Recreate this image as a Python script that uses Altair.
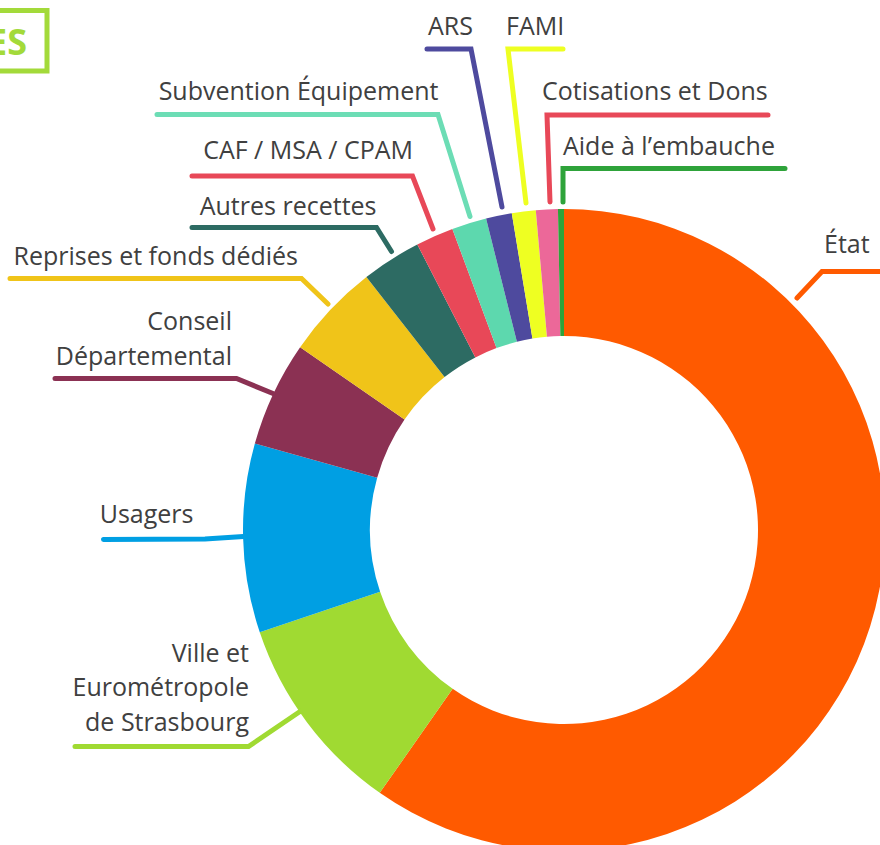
import altair as alt
import pandas as pd

# ---- data (percent of total resources) ----
categories = ["État", "Ville et Eurométropole de Strasbourg", "Usagers", "Conseil Départemental",
              "Reprises et fonds dédiés", "Autres recettes", "CAF / MSA / CPAM",
              "Subvention Équipement", "ARS", "FAMI", "Cotisations et Dons", "Aide à l’embauche"]
values = [59.7, 10.1, 9.5, 5.3, 4.8, 3.0, 1.9, 1.75, 1.3, 1.2, 1.1, 0.3]
colors = ["#FF5A00", "#A0DA32", "#009FE3", "#8B3153", "#F0C419", "#2D6B63", "#E84858",
          "#5DD8AE", "#4E4A9E", "#EEFF22", "#EC6899", "#2EA33A"]
line_colors = ["#FF5A00", "#A0DA32", "#009FE3", "#8B3153", "#F0C419", "#2D6B63", "#E84858",
               "#6CDDB5", "#4E4A9E", "#EEFF22", "#E84858", "#2EA33A"]

# label text lines per category
label_lines = [["État"], ["Ville et", "Eurométropole", "de Strasbourg"], ["Usagers"],
               ["Conseil", "Départemental"], ["Reprises et fonds dédiés"], ["Autres recettes"],
               ["CAF / MSA / CPAM"], ["Subvention Équipement"], ["ARS"], ["FAMI"],
               ["Cotisations et Dons"], ["Aide à l’embauche"]]

# ---- layout (annotation positions, pixels) ----
CX, CY, R_OUT, R_IN = 564, 530, 321, 194
label_anchor = [(824, 253, "left"), (249, 661.5, "right"), (193.5, 522.5, "right"),
                (232, 330, "right"), (298, 265, "right"), (376.5, 215, "right"),
                (413, 159, "right"), (438.5, 100, "right"), (473, 35, "right"),
                (506, 35, "left"), (542, 100, "left"), (563, 155, "left")]
LINE_H = 34.5
leader_pts = [[(797, 298), (822, 271.5), (890, 271.5)],
              [(75, 746.5), (248.5, 746.5), (300, 711.5)],
              [(103.5, 539.5), (205, 539), (243.5, 536.5)],
              [(55, 378.5), (236.5, 378.5), (273, 393.5)],
              [(10, 278.5), (301.5, 278.5), (328, 304)],
              [(192, 227.5), (376.5, 227.5), (391.5, 251.5)],
              [(192, 176), (412.5, 176), (433, 229)],
              [(157, 114.5), (438, 114.5), (470, 216.5)],
              [(427, 49), (471, 49), (502, 207)],
              [(563, 49), (508, 49), (526, 203)],
              [(768, 115), (547, 115), (550, 202)],
              [(785, 168.5), (563, 168.5), (563, 202)]]

W, H = 880, 845
FONT = "Open Sans"
FS = 25

slices = pd.DataFrame({"cat": categories, "value": values, "idx": range(len(categories))})

lines_rows = []
for i, pts in enumerate(leader_pts):
    for j, (x, y) in enumerate(pts):
        lines_rows.append({"lcat": categories[i], "x": x, "y": y, "o": j})
lines_df = pd.DataFrame(lines_rows)

text_rows = []
for i, lines in enumerate(label_lines):
    x, y, al = label_anchor[i]
    for k, t in enumerate(lines):
        text_rows.append({"t": t, "x": x, "y": y + k * LINE_H, "al": al})
text_df = pd.DataFrame(text_rows)

xs = alt.Scale(domain=[0, W], range=[0, W], nice=False, zero=False)
ys = alt.Scale(domain=[0, H], range=[0, H], nice=False, zero=False)
col_scale = alt.Scale(domain=categories, range=colors)
line_scale = alt.Scale(domain=categories, range=line_colors)

donut = alt.Chart(slices).mark_arc(radius=R_OUT, innerRadius=R_IN).encode(
    theta=alt.Theta("value:Q", stack=True),
    order=alt.Order("idx:Q"),
    color=alt.Color("cat:N", scale=col_scale, legend=None),
    x=alt.value(CX), y=alt.value(CY),
)

leaders = alt.Chart(lines_df).mark_line(strokeWidth=5, strokeCap="round", strokeJoin="miter").encode(
    x=alt.X("x:Q", scale=xs, axis=None),
    y=alt.Y("y:Q", scale=ys, axis=None),
    order="o:Q",
    detail="lcat:N",
    color=alt.Color("lcat:N", scale=line_scale, legend=None),
)

txt_left = alt.Chart(text_df[text_df.al == "left"]).mark_text(
    align="left", baseline="alphabetic", font=FONT, fontSize=FS, color="#404040").encode(
    x=alt.X("x:Q", scale=xs, axis=None), y=alt.Y("y:Q", scale=ys, axis=None), text="t:N")
txt_right = alt.Chart(text_df[text_df.al == "right"]).mark_text(
    align="right", baseline="alphabetic", font=FONT, fontSize=FS, color="#404040").encode(
    x=alt.X("x:Q", scale=xs, axis=None), y=alt.Y("y:Q", scale=ys, axis=None), text="t:N")

title_df = pd.DataFrame({"x": [-400], "x2": [47], "y": [10.5], "y2": [71], "t": ["RESSOURCES"], "tx": [27], "ty": [55]})
box = alt.Chart(title_df).mark_rect(fill=None, stroke="#A3DA3A", strokeWidth=5).encode(
    x=alt.X("x:Q", scale=xs, axis=None), x2="x2:Q",
    y=alt.Y("y:Q", scale=ys, axis=None), y2="y2:Q")
title_txt = alt.Chart(title_df).mark_text(
    align="right", baseline="alphabetic", font=FONT, fontWeight="bold", fontSize=36, color="#A3DA3A").encode(
    x=alt.X("tx:Q", scale=xs, axis=None), y=alt.Y("ty:Q", scale=ys, axis=None), text="t:N")

chart = alt.layer(donut, leaders, txt_left, txt_right, box, title_txt).resolve_scale(
    color="independent"
).properties(
    width=W, height=H, autosize=alt.AutoSizeParams(type="none"), padding=0, background="white"
).configure_view(stroke=None)

chart.save("out.html", embed_options={"renderer": "svg", "actions": False})
